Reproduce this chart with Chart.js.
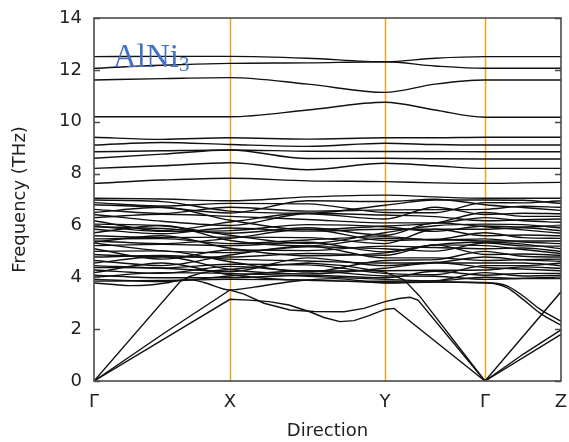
<!DOCTYPE html>
<html>
<head>
<meta charset="utf-8">
<script src="https://cdn.jsdelivr.net/npm/chart.js@4.4.0/dist/chart.umd.min.js"></script>
<style>
html,body{margin:0;padding:0;background:#fff;}
canvas{display:block;}
</style>
</head>
<body>
<canvas id="c" width="569" height="442"></canvas>
<script>
// ---- high-symmetry path ----
const kTicks = [0, 1.36, 2.91, 3.91, 4.67];
const kLabels = ["Γ", "X", "Y", "Γ", "Z"];
const kStd = [0, 0.68, 1.36, 2.135, 2.91, 3.41, 3.91, 4.29, 4.67];
const yTicks = [0, 2, 4, 6, 8, 10, 12, 14];

// ---- upper optical bands (values at kStd) ----
const highBands = [
  [12.51, 12.52, 12.52, 12.45, 12.31, 12.45, 12.51, 12.51, 12.51],
  [12.06, 12.18, 12.25, 12.27, 12.31, 12.15, 12.06, 12.06, 12.06],
  [11.61, 11.66, 11.70, 11.45, 11.13, 11.45, 11.61, 11.61, 11.61],
  [10.19, 10.19, 10.19, 10.45, 10.75, 10.45, 10.17, 10.17, 10.17],
  [9.40, 9.32, 9.38, 9.33, 9.38, 9.38, 9.40, 9.40, 9.40],
  [9.10, 9.20, 9.12, 9.05, 9.17, 9.12, 9.10, 9.10, 9.10],
  [8.84, 8.88, 8.91, 8.86, 8.85, 8.85, 8.84, 8.84, 8.84],
  [8.59, 8.75, 8.91, 8.58, 8.59, 8.57, 8.56, 8.56, 8.56],
  [8.20, 8.30, 8.42, 8.15, 8.40, 8.30, 8.20, 8.20, 8.20],
  [7.62, 7.75, 7.82, 7.72, 7.69, 7.64, 7.62, 7.64, 7.66]
];

// ---- dense optical bands, 3.8 - 7.2 THz (values at kStd) ----
const midBands = [
  [7.05, 7.02, 6.95, 7.10, 7.17, 7.10, 7.05, 7.05, 7.05],
  [6.98, 6.92, 6.55, 6.47, 6.78, 6.98, 6.98, 6.97, 6.85],
  [6.88, 6.75, 6.85, 6.83, 6.50, 6.49, 6.88, 6.87, 6.95],
  [6.80, 6.69, 6.48, 6.95, 6.92, 7.01, 6.80, 6.69, 6.58],
  [6.62, 6.46, 6.70, 6.55, 6.60, 6.61, 6.62, 6.74, 6.70],
  [6.50, 6.70, 6.20, 5.84, 5.98, 6.09, 6.50, 6.35, 6.35],
  [6.42, 6.16, 6.00, 6.45, 6.25, 6.70, 6.42, 6.47, 6.45],
  [6.30, 6.43, 6.35, 6.23, 6.10, 6.10, 6.30, 6.18, 6.12],
  [6.18, 5.80, 6.13, 6.47, 6.40, 6.34, 6.18, 6.22, 6.25],
  [6.05, 5.99, 5.62, 5.30, 5.72, 5.99, 6.05, 6.03, 5.90],
  [5.98, 5.77, 5.80, 6.03, 5.95, 5.77, 5.98, 5.94, 6.00],
  [5.95, 5.88, 5.70, 5.91, 5.62, 6.10, 5.95, 5.83, 5.70],
  [5.85, 5.68, 5.90, 5.78, 5.85, 5.85, 5.85, 5.91, 5.80],
  [5.72, 6.00, 5.42, 5.21, 5.50, 5.46, 5.72, 5.53, 5.50],
  [5.60, 5.53, 5.55, 5.53, 5.30, 5.85, 5.60, 5.63, 5.60],
  [5.48, 5.49, 5.30, 5.44, 5.57, 5.43, 5.48, 5.36, 5.30],
  [5.40, 5.30, 5.50, 5.85, 5.42, 5.46, 5.40, 5.40, 5.40],
  [5.36, 5.60, 5.12, 4.83, 4.94, 5.25, 5.36, 5.28, 5.10],
  [5.32, 5.02, 4.95, 5.18, 5.10, 5.01, 5.32, 5.21, 5.20],
  [5.22, 5.27, 5.22, 5.35, 4.98, 5.25, 5.22, 5.07, 4.92],
  [5.10, 4.70, 5.05, 5.03, 5.20, 5.15, 5.10, 5.13, 5.00],
  [5.00, 5.02, 4.60, 4.20, 4.65, 4.68, 5.00, 4.81, 4.78],
  [4.88, 4.78, 4.78, 4.92, 4.85, 5.25, 4.88, 4.90, 4.85],
  [4.78, 4.84, 4.70, 4.63, 4.55, 4.57, 4.78, 4.67, 4.62],
  [4.65, 4.45, 4.86, 5.20, 4.75, 4.75, 4.65, 4.68, 4.70],
  [4.55, 4.80, 4.30, 4.13, 4.35, 4.55, 4.55, 4.55, 4.45],
  [4.45, 4.36, 4.50, 4.48, 4.15, 4.10, 4.45, 4.45, 4.55],
  [4.38, 4.35, 4.22, 4.75, 4.45, 4.57, 4.38, 4.32, 4.25],
  [4.28, 4.15, 4.42, 4.24, 4.25, 4.27, 4.28, 4.40, 4.35],
  [4.18, 4.55, 4.10, 3.88, 3.85, 3.87, 4.18, 4.05, 4.08],
  [4.08, 3.98, 3.98, 4.08, 3.98, 4.23, 4.08, 4.15, 4.15],
  [4.00, 4.18, 4.15, 4.04, 3.92, 3.86, 4.00, 3.95, 3.95],
  [3.92, 3.84, 4.05, 4.25, 4.05, 4.04, 3.92, 3.96, 4.00]
];

// ---- lowest optical bands (own k points) ----
const lowOptK1 = [0, 0.68, 1.36, 2.135, 2.91, 3.41, 3.91, 4.13, 4.29, 4.46, 4.67];
const lowOpt1  = [3.85, 3.88, 3.92, 3.90, 3.80, 3.82, 3.80, 3.67, 3.28, 2.77, 2.30];
const lowOptK2 = [0, 0.2, 0.36, 0.55, 0.75, 0.93, 1.1, 1.36, 1.6, 1.96, 2.41, 2.91, 3.41, 3.91, 4.0, 4.13, 4.29, 4.46, 4.67];
const lowOpt2  = [3.78, 3.72, 3.68, 3.70, 3.80, 3.92, 3.80, 3.51, 3.62, 3.83, 3.95, 3.78, 3.82, 3.78, 3.76, 3.60, 3.15, 2.62, 2.15];

// ---- acoustic branches (own k points, straight segments) ----
const ta1K = [0, 1.36, 1.55, 1.75, 1.95, 2.15, 2.3, 2.46, 2.6, 2.75, 2.91, 3.0, 3.91, 4.67];
const ta1  = [0, 3.15, 3.12, 3.06, 2.93, 2.68, 2.45, 2.29, 2.33, 2.52, 2.76, 2.80, 0, 1.80];
const ta2K = [0, 0.7, 1.36, 1.5, 1.7, 1.96, 2.2, 2.5, 2.7, 2.91, 3.05, 3.16, 3.24, 3.91, 4.29, 4.67];
const ta2  = [0, 1.84, 3.51, 3.35, 3.00, 2.74, 2.68, 2.67, 2.80, 3.06, 3.18, 3.23, 3.12, 0, 1.03, 1.97];
const laK  = [0, 0.86, 0.95, 1.06, 1.2, 1.36, 1.75, 2.135, 2.5, 2.91, 3.1, 3.25, 3.91, 4.67];
const la   = [0, 3.83, 4.02, 4.15, 4.25, 4.30, 4.45, 4.55, 4.45, 4.20, 3.90, 3.30, 0, 3.44];

// ---- build datasets ----
function mk(ks, vs, straight) {
  return {
    data: ks.map((k, i) => ({x: k, y: vs[i]})),
    borderColor: '#111',
    borderWidth: 1.4,
    pointRadius: 0,
    showLine: true,
    fill: false,
    tension: 0,
    cubicInterpolationMode: straight ? 'default' : 'monotone'
  };
}
const datasets = [];
highBands.forEach(b => datasets.push(mk(kStd, b)));
midBands.forEach(b => datasets.push(mk(kStd, b)));
datasets.push(mk(lowOptK1, lowOpt1));
datasets.push(mk(lowOptK2, lowOpt2));
datasets.push(mk(ta1K, ta1, true));
datasets.push(mk(ta2K, ta2, true));
datasets.push(mk(laK, la, true));

const FONT = "'DejaVu Sans', sans-serif";

const framePlugin = {
  id: 'frame',
  beforeDatasetsDraw(chart) {
    const {ctx, chartArea: {top, bottom}, scales: {x}} = chart;
    ctx.save();
    ctx.strokeStyle = '#efa21c';
    ctx.lineWidth = 1.5;
    ctx.beginPath();
    kTicks.slice(1, -1).forEach(v => {
      const px = Math.round(x.getPixelForValue(v)) + 0.5;
      ctx.moveTo(px, top); ctx.lineTo(px, bottom);
    });
    ctx.stroke();
    ctx.restore();
  },
  afterDatasetsDraw(chart) {
    const {ctx, chartArea: {left, right, top, bottom}, scales: {y}} = chart;
    ctx.save();
    ctx.strokeStyle = '#4a4a4a';
    ctx.lineWidth = 1.6;
    ctx.beginPath();
    yTicks.forEach(v => {
      const py = Math.round(y.getPixelForValue(v)) + 0.5;
      ctx.moveTo(left, py); ctx.lineTo(left + 6, py);
      ctx.moveTo(right, py); ctx.lineTo(right - 6, py);
    });
    ctx.stroke();
    ctx.strokeRect(left, top, right - left, bottom - top);
    // compound label
    ctx.fillStyle = '#4472c4';
    ctx.textBaseline = 'alphabetic';
    ctx.textAlign = 'left';
    ctx.font = "33px 'Liberation Serif', serif";
    const main = 'AlNi';
    ctx.fillText(main, left + 19, top + 49);
    const w = ctx.measureText(main).width;
    ctx.font = "21px 'Liberation Serif', serif";
    ctx.fillText('3', left + 19 + w, top + 53);
    ctx.restore();
  }
};

new Chart(document.getElementById('c'), {
  type: 'scatter',
  data: {datasets},
  options: {
    responsive: false,
    animation: false,
    devicePixelRatio: 1,
    layout: {padding: {left: 0, right: 8, top: 18, bottom: 0}},
    plugins: {legend: {display: false}, tooltip: {enabled: false}},
    scales: {
      x: {
        type: 'linear',
        min: 0, max: 4.67,
        afterBuildTicks: s => { s.ticks = kTicks.map(v => ({value: v})); },
        afterFit: s => { s.height = 61; s.paddingLeft = 0; s.paddingRight = 0; },
        ticks: {
          callback: (v, i) => kLabels[i],
          font: {family: FONT, size: 18},
          color: '#222',
          padding: 11,
          maxRotation: 0,
          autoSkip: false
        },
        grid: {display: false, drawTicks: false},
        border: {display: false},
        title: {display: true, text: 'Direction', font: {family: FONT, size: 18}, color: '#222', padding: {top: 0, bottom: 0}}
      },
      y: {
        min: 0, max: 14,
        afterBuildTicks: s => { s.ticks = yTicks.map(v => ({value: v})); },
        afterFit: s => { s.width = 94; s.paddingTop = 0; s.paddingBottom = 0; },
        ticks: {
          font: {family: FONT, size: 18},
          color: '#222',
          padding: 12
        },
        grid: {display: false, drawTicks: false},
        border: {display: false},
        title: {display: true, text: 'Frequency (THz)', font: {family: FONT, size: 18}, color: '#222', padding: {top: 10, bottom: 0}}
      }
    }
  },
  plugins: [framePlugin]
});
</script>
</body>
</html>
